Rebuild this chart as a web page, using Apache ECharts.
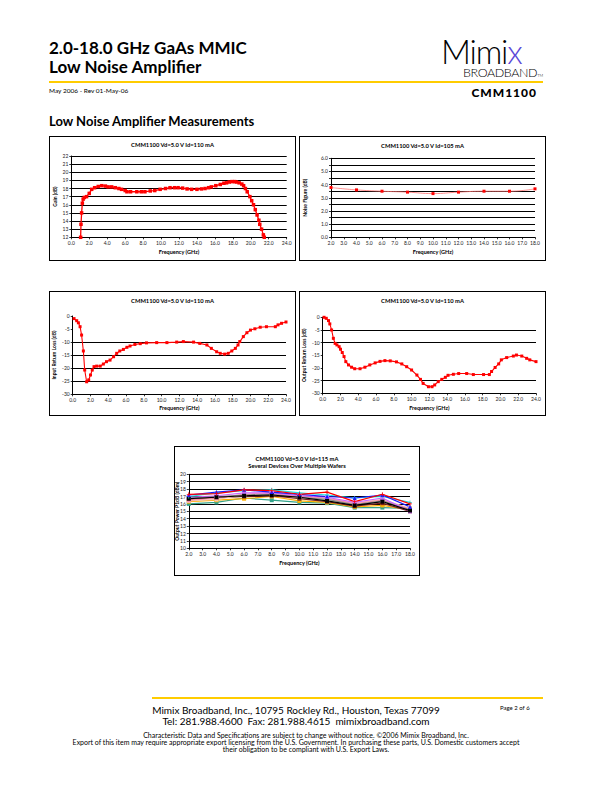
<!DOCTYPE html>
<html>
<head>
<meta charset="utf-8">
<script src="https://cdn.jsdelivr.net/npm/echarts@6/dist/echarts.min.js"></script>
<style>
  html, body { margin:0; padding:0; background:#fff; }
  #page { position:relative; width:612px; height:792px; overflow:hidden; font-family: Lato, "Open Sans", sans-serif; color:#000; }
  .t { position:absolute; white-space:nowrap; line-height:1; }
  .box { position:absolute; border:1px solid #000; box-sizing:border-box; background:#fff; }
  .chart { position:absolute; left:0; top:0; width:100%; height:100%; }
</style>
</head>
<body>
<div id="page">
  <div class="t" style="left:49px;top:39px;font-size:17px;font-weight:bold;">2.0-18.0 GHz GaAs MMIC</div>
  <div class="t" style="left:49px;top:58px;font-size:17px;font-weight:bold;">Low Noise Amplifier</div>
  <div class="t" style="left:441px;top:36.5px;font-size:33px;line-height:28px;font-weight:300;letter-spacing:-1.2px;">Mimi<span style="color:#5a48d8;">x</span><span style="display:block;margin-top:2.5px;margin-left:22px;font-size:12.5px;line-height:11px;letter-spacing:-0.4px;color:#000;">BROADBAND<span style="font-size:4px;letter-spacing:0;">TM</span></span></div>
  <div style="position:absolute;left:49px;top:81px;width:494px;height:2px;background:#ffcc00;"></div>
  <div class="t" style="left:49px;top:88px;font-size:6.5px;">May 2006 - Rev 01-May-06</div>
  <div class="t" style="right:75px;top:87px;font-size:12px;font-weight:900;letter-spacing:1px;">CMM1100</div>
  <div class="t" style="left:49px;top:115px;font-size:13px;font-weight:bold;">Low Noise Amplifier Measurements</div>

  <div class="box" style="left:49px;top:136px;width:247px;height:125px;"><div id="c1" class="chart"></div></div>
  <div class="box" style="left:299px;top:136px;width:247px;height:125px;"><div id="c2" class="chart"></div></div>
  <div class="box" style="left:49px;top:291px;width:247px;height:125px;"><div id="c3" class="chart"></div></div>
  <div class="box" style="left:299px;top:291px;width:247px;height:125px;"><div id="c4" class="chart"></div></div>
  <div class="box" style="left:174px;top:446px;width:246px;height:130px;"><div id="c5" class="chart"></div></div>

  <div style="position:absolute;left:152px;top:697px;width:391px;height:2px;background:#ffcc00;"></div>
  <div class="t" style="left:0;width:592px;text-align:center;top:705px;font-size:10px;">Mimix Broadband, Inc., 10795 Rockley Rd., Houston, Texas 77099</div>
  <div class="t" style="left:0;width:592px;text-align:center;top:716px;font-size:10px;">Tel: 281.988.4600&nbsp; Fax: 281.988.4615&nbsp; mimixbroadband.com</div>
  <div class="t" style="left:500px;top:705px;font-size:6px;">Page 2 of 6</div>
  <div class="t" style="left:0;width:612px;text-align:center;top:732px;font-size:7px;">Characteristic Data and Specifications are subject to change without notice. ©2006 Mimix Broadband, Inc.</div>
  <div class="t" style="left:0;width:592px;text-align:center;top:739px;font-size:7px;">Export of this item may require appropriate export licensing from the U.S. Government. In purchasing these parts, U.S. Domestic customers accept</div>
  <div class="t" style="left:0;width:612px;text-align:center;top:746px;font-size:7px;">their obligation to be compliant with U.S. Export Laws.</div>
</div>
<script>
// ---------- DATA ----------
const gainFreq = [1.04,1.08,1.15,1.23,1.32,1.45,1.7,2.0,2.27,2.6,3.0,3.4,3.8,4.1,4.5,4.9,5.3,5.6,6.0,6.2,6.6,7.3,7.8,8.2,8.8,9.3,9.9,10.5,11.0,11.5,11.9,12.4,12.9,13.4,14.0,14.5,14.9,15.3,15.6,16.1,16.6,17.0,17.3,17.6,17.9,18.2,18.4,18.7,19.0,19.2,19.4,19.6,19.9,20.1,20.3,20.5,20.7,20.9,21.0,21.2,21.4,21.5];
const gainDb = [12.0,13.6,15.0,16.2,16.7,16.9,17.0,17.4,17.9,18.1,18.25,18.35,18.3,18.2,18.2,18.1,18.0,17.9,17.75,17.6,17.6,17.6,17.6,17.6,17.7,17.75,17.9,18.0,18.1,18.1,18.1,18.05,17.95,17.9,17.9,17.95,18.0,18.1,18.2,18.35,18.5,18.65,18.7,18.8,18.85,18.85,18.8,18.7,18.55,18.35,18.0,17.6,17.0,16.5,16.0,15.4,14.75,14.1,13.6,13.0,12.3,12.0];

const nfFreq = [2,4,6,8,10,12,14,16,18];
const nfDb = [3.78,3.6,3.5,3.43,3.32,3.43,3.5,3.5,3.68];

const irlFreq = [0.15,0.45,0.64,0.83,1.0,1.2,1.35,1.57,1.8,2.0,2.2,2.4,2.7,3.1,3.45,3.8,4.2,4.6,4.95,5.3,5.7,6.1,6.45,7.0,7.6,8.3,9.45,10.6,11.7,12.45,13.6,14.3,15.1,15.6,16.2,16.6,17.1,17.5,17.9,18.3,18.6,18.8,19.2,19.6,20.0,20.5,21.1,21.8,22.8,23.1,23.5,24.0];
const irlDb = [-1.0,-1.8,-2.6,-4.1,-7.3,-13.4,-20.7,-25.2,-24.5,-22.6,-20.7,-19.4,-19.2,-19.2,-18.4,-17.5,-16.9,-15.6,-14.3,-13.4,-12.8,-12.0,-11.5,-10.9,-10.6,-10.3,-10.2,-10.2,-10.0,-9.8,-10.0,-10.5,-11.1,-12.4,-13.7,-14.3,-14.6,-14.3,-13.4,-12.4,-11.1,-9.8,-7.9,-6.4,-5.4,-4.9,-4.3,-4.1,-4.1,-3.4,-2.8,-2.3];

const orlFreq = [0.15,0.4,0.65,0.8,1.0,1.2,1.4,1.6,1.85,2.0,2.2,2.4,2.6,2.9,3.25,3.6,4.2,4.75,5.3,5.9,6.45,7.0,7.6,8.3,8.9,9.45,10.0,10.6,11.0,11.3,11.9,12.3,12.6,13.0,13.4,13.8,14.1,14.7,15.3,16.2,16.95,18.1,18.75,19.0,19.4,19.8,20.1,20.7,21.45,21.8,22.4,22.95,23.3,24.0];
const orlDb = [0,-0.4,-1.3,-2.6,-5.0,-8.3,-10.3,-10.9,-11.6,-12.6,-13.9,-15.5,-17.5,-18.8,-19.7,-20.3,-20.3,-19.7,-18.8,-18.0,-17.4,-17.1,-17.2,-17.6,-18.4,-19.5,-20.8,-22.8,-24.5,-26.1,-27.4,-27.4,-26.7,-25.4,-24.5,-23.7,-22.9,-22.5,-22.2,-22.2,-22.6,-22.6,-22.6,-21.4,-19.8,-18.4,-16.8,-15.9,-15.3,-14.9,-15.3,-16.2,-16.8,-17.5];

const p1dbFreq = [2,4,6,8,10,12,14,16,18];
const devBlue    = [17.2,17.6,17.9,17.6,17.3,17.0,16.8,17.2,15.6];
const devRed     = [17.3,17.4,17.9,17.8,17.3,17.6,16.3,17.3,16.0];
const devCyan    = [17.0,17.5,17.8,17.9,17.5,17.2,16.8,17.0,16.2];
const devLav     = [16.4,16.6,17.2,17.6,17.0,16.7,16.1,16.6,15.4];
const devMagenta = [16.9,17.1,17.5,17.5,17.1,16.9,16.2,16.8,15.0];
const devPink    = [16.5,16.8,17.3,17.4,17.0,16.8,16.0,16.5,15.3];
const devGray    = [16.8,17.0,17.2,17.3,16.9,16.6,15.9,16.4,15.2];
const devBlack   = [16.7,16.9,17.1,17.2,16.9,16.4,15.8,16.3,15.1];
const devMaroon  = [16.6,16.8,17.0,17.1,16.7,16.3,15.7,16.1,15.0];
const devOrange  = [16.3,16.5,16.7,17.0,16.4,16.2,15.6,15.8,15.2];
const devTeal    = [16.0,16.2,16.8,16.5,16.2,16.1,15.5,15.5,15.4];

const title1 = 'CMM1100 Vd=5.0 V Id=110 mA';
const title2 = 'CMM1100 Vd=5.0 V Id=105 mA';
const title5 = 'CMM1100 Vd=5.0 V Id=115 mA\nSeveral Devices Over Multiple Wafers';

// ---------- HELPERS ----------
const FONT = 'Lato, "Open Sans", sans-serif';
const pairs = (xs, ys) => xs.map((x, i) => [x, ys[i]]);
const T = 'rgba(0,0,0,0)';

function xAxisCfg(min, max, interval, gap) {
  return {
    type: 'value', min, max, interval,
    name: 'Frequency (GHz)', nameLocation: 'middle', nameGap: gap, nameMoveOverlap: false,
    nameTextStyle: { fontSize: 5.5, fontWeight: 'bold', color: '#000', fontFamily: FONT },
    axisLine: { show: true, onZero: false, lineStyle: { color: '#000', width: 1 } },
    axisTick: { show: true, length: 2, lineStyle: { color: '#000', width: 0.8 } },
    axisLabel: { fontSize: 5, margin: 3, color: '#222', fontFamily: FONT, formatter: v => v.toFixed(1) },
    splitLine: { show: false }
  };
}
function yAxisCfg(min, max, interval, name, gap, fmt, splitColors) {
  return {
    type: 'value', min, max, interval,
    name, nameLocation: 'middle', nameGap: gap, nameRotate: 90, nameMoveOverlap: false,
    nameTextStyle: { fontSize: 5, fontWeight: 'bold', color: '#000', fontFamily: FONT },
    axisLine: { show: true, onZero: false, lineStyle: { color: '#000', width: 1 } },
    axisTick: { show: true, length: 2, lineStyle: { color: '#000', width: 0.8 } },
    axisLabel: { fontSize: 5, margin: 3, color: '#222', fontFamily: FONT, formatter: fmt },
    splitLine: { show: true, lineStyle: { color: splitColors || '#000', width: 1 } }
  };
}
function titleCfg(text, top) {
  return { text, left: 'center', top, padding: 0, textStyle: { fontSize: 5.8, fontWeight: 'bold', color: '#000', fontFamily: FONT, lineHeight: 7.3 } };
}
function gridCfg(left, right, top, bottom) {
  return { left, right, top, bottom, containLabel: false, outerBoundsMode: 'none' };
}
function redSeries(data, smooth, lineColor, lw, size) {
  return {
    type: 'line', data, smooth: !!smooth, symbol: 'rect', symbolSize: size || 3,
    lineStyle: { color: lineColor || '#ff0000', width: lw || 1.2 },
    itemStyle: { color: '#ff0000' }, animation: false
  };
}
function mk(id, option) {
  const c = echarts.init(document.getElementById(id), null, { renderer: 'svg' });
  option.animation = false;
  c.setOption(option);
}

// ---------- CHART 1: Gain ----------
mk('c1', {
  title: titleCfg(title1, 3.5),
  grid: gridCfg(21.3, 8.3, 19, 22.7),
  xAxis: xAxisCfg(0, 24, 2, 11.5),
  yAxis: yAxisCfg(12, 22, 1, 'Gain (dB)', 14.3, v => String(v)),
  series: [redSeries(pairs(gainFreq, gainDb), false, '#ff0000', 1.3, 3.5)]
});

// ---------- CHART 2: Noise figure ----------
mk('c2', {
  title: titleCfg(title2, 5),
  grid: gridCfg(31, 10, 21.3, 22.7),
  xAxis: xAxisCfg(2, 18, 1, 11.5),
  yAxis: yAxisCfg(0, 6, 0.5, 'Noise Figure (dB)', 24, v => (Math.abs(v - Math.round(v)) < 1e-6 ? v.toFixed(1) : '')),
  series: [redSeries(pairs(nfFreq, nfDb), true, '#ff7070', 0.8, 3)]
});

// ---------- CHART 3: Input return loss ----------
mk('c3', {
  title: titleCfg(title1, 5),
  grid: gridCfg(22.7, 9, 24, 20.7),
  xAxis: xAxisCfg(0, 24, 2, 10.5),
  yAxis: yAxisCfg(-30, 0, 5, 'Input Return Loss (dB)', 16, v => String(v), ['#000', '#000', '#000', '#000', '#000', T, T]),
  series: [redSeries(pairs(irlFreq, irlDb), false, '#ff0000', 1.1, 3)]
});

// ---------- CHART 4: Output return loss ----------
mk('c4', {
  title: titleCfg(title1, 5),
  grid: gridCfg(22.7, 9, 25.3, 21.7),
  xAxis: xAxisCfg(0, 24, 2, 11.5),
  yAxis: yAxisCfg(-30, 0, 5, 'Output Return Loss (dB)', 16, v => String(v), ['#000', '#000', T, T, '#000', '#000', T]),
  series: [redSeries(pairs(orlFreq, orlDb), false, '#ff0000', 1.1, 3)]
});

// ---------- CHART 5: P1dB ----------
const plus = 'path://M4,0H6V4H10V6H6V10H4V6H0V4H4Z';
const devs = [
  { d: devTeal, c: '#33a38a', s: 'rect' },
  { d: devOrange, c: '#ffb000', s: 'rect' },
  { d: devMaroon, c: '#7a1f1f', s: 'rect' },
  { d: devLav, c: '#f2c8b8', s: 'rect' },
  { d: devPink, c: '#ff8fa8', s: 'rect' },
  { d: devGray, c: '#8c8c8c', s: 'rect' },
  { d: devMagenta, c: '#cc66ff', s: 'rect' },
  { d: devBlack, c: '#000000', s: 'rect' },
  { d: devCyan, c: '#22dddd', s: plus },
  { d: devBlue, c: '#1a1aff', s: 'triangle' },
  { d: devRed, c: '#ff0000', s: plus }
];
mk('c5', {
  title: titleCfg(title5, 7.5),
  grid: gridCfg(13.8, 9, 27.3, 26.7),
  xAxis: xAxisCfg(2, 18, 1, 12),
  yAxis: yAxisCfg(10, 20, 1, 'Output Power P1dB (dBm)', 9.3, v => String(v)),
  series: devs.map(o => ({
    type: 'line', data: pairs(p1dbFreq, o.d), symbol: o.s, symbolSize: 4,
    lineStyle: { color: o.c, width: 1.2 }, itemStyle: { color: o.c }, animation: false
  }))
});
</script>
</body>
</html>
